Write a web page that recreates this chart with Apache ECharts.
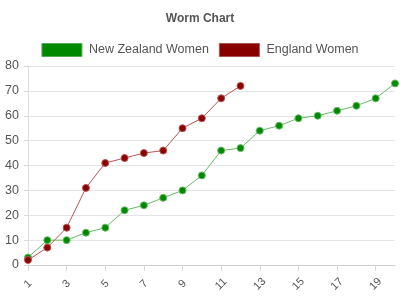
<!DOCTYPE html>
<html><head><meta charset="utf-8">
<script src="https://cdn.jsdelivr.net/npm/echarts@6/dist/echarts.min.js"></script>
<style>html,body{margin:0;padding:0;background:#fff}#c{width:400px;height:300px}</style>
</head><body><div id="c"></div>
<script>
var overs = ['1','2','3','4','5','6','7','8','9','10','11','12','13','14','15','16','17','18','19','20'];
var nzWomen = [3,10,10,13,15,22,24,27,30,36,46,47,54,56,59,60,62,64,67,73];
var engWomen = [2,7,15,31,41,43,45,46,55,59,67,72];
var yTicks = [0,10,20,30,40,50,60,70,80];

var chart = echarts.init(document.getElementById('c'), null, {renderer:'canvas'});
function ser(name, data, col, light) {
  return {
    name: name, type: 'line', data: data,
    symbol: 'circle', symbolSize: 7,
    lineStyle: {color: light, width: 1},
    itemStyle: {color: col, borderColor: light, borderWidth: 1},
    emphasis: {disabled: true}, animation: false
  };
}
chart.setOption({
  animation: false,
  title: {text: 'Worm Chart', left: 'center', top: 8,
    textStyle: {fontFamily: 'Liberation Sans', fontSize: 12, fontWeight: 'bold', color: '#555'}},
  legend: {top: 43, left: 'center', itemWidth: 40, itemHeight: 13, itemGap: 10,
    icon: 'rect', padding: 0,
    textStyle: {fontFamily: 'Liberation Sans', fontSize: 12.5, color: '#555', padding: [0,0,0,2]},
    data: [
      {name: 'New Zealand Women', itemStyle: {color: '#008800', borderColor: '#55aa55', borderWidth: 1}},
      {name: 'England Women', itemStyle: {color: '#880000', borderColor: '#aa5555', borderWidth: 1}}
    ]},
  grid: {left: 28, right: 5, top: 66, bottom: 35},
  xAxis: {type: 'category', data: overs, boundaryGap: false,
    axisLine: {lineStyle: {color: '#d0d0d0'}},
    axisTick: {show: true, interval: 1, length: 6, lineStyle: {color: '#d8d8d8'}},
    axisLabel: {interval: 1, rotate: 45, align: 'center', verticalAlign: 'middle',
      fontFamily: 'Liberation Sans', fontSize: 11, color: '#555', margin: 19},
    splitLine: {show: false}},
  yAxis: {type: 'value', min: yTicks[0], max: yTicks[yTicks.length-1], interval: 10,
    axisLine: {show: true, lineStyle: {color: '#e0e0e0'}},
    axisTick: {show: true, length: 4, lineStyle: {color: '#d8d8d8'}},
    axisLabel: {fontFamily: 'Liberation Sans', fontSize: 12.5, color: '#555', margin: 9},
    splitLine: {lineStyle: {color: '#e4e4e4'}}},
  series: [
    ser('New Zealand Women', nzWomen, '#008800', '#66bb66'),
    ser('England Women', engWomen, '#880000', '#bb5555')
  ]
});
</script></body></html>
